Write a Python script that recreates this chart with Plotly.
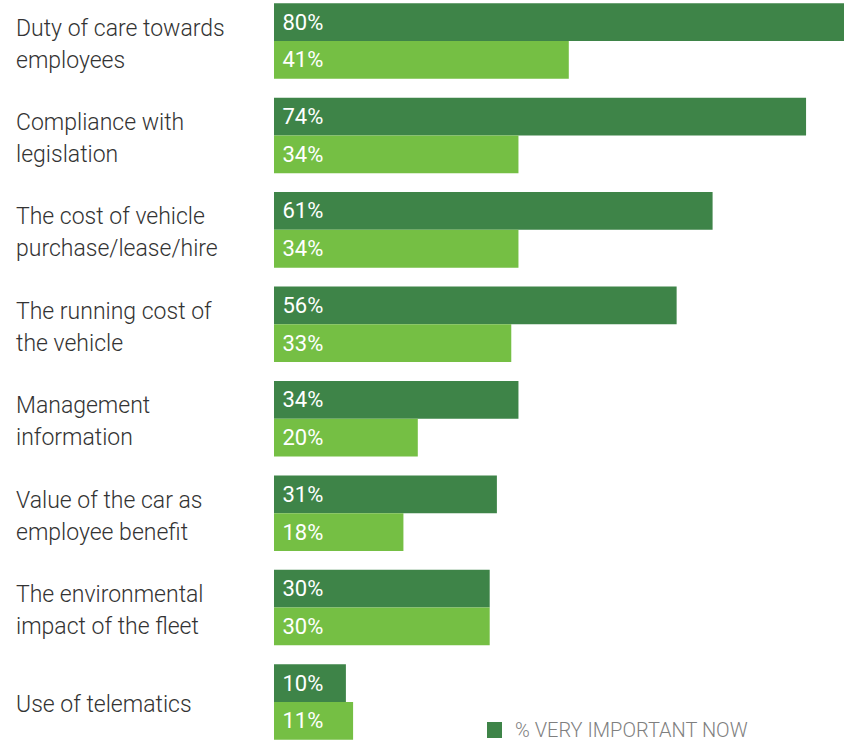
import plotly.graph_objects as go

categories = [
    "Duty of care towards<br>employees",
    "Compliance with<br>legislation",
    "The cost of vehicle<br>purchase/lease/hire",
    "The running cost of<br>the vehicle",
    "Management<br>information",
    "Value of the car as<br>employee benefit",
    "The environmental<br>impact of the fleet",
    "Use of telematics",
]
very_important_now = [80, 74, 61, 56, 34, 31, 30, 10]
second_series = [41, 34, 34, 33, 20, 18, 30, 11]
legend_label = "% VERY IMPORTANT NOW"

DARK = "#3e8448"
LIGHT = "#75bf44"
W, H = 844, 741
LEFT = 274
PX_PER_PCT = 7.19

pos = list(range(len(categories)))
bar_font = dict(color="white", size=22, family="Roboto", weight=400)

fig = go.Figure()
fig.add_trace(go.Bar(
    y=pos, x=very_important_now, orientation="h",
    name=legend_label, marker=dict(color=DARK, line=dict(width=0)),
    text=[f" {v}%" for v in very_important_now], textposition="inside",
    insidetextanchor="start", textangle=0, textfont=bar_font,
    showlegend=False,
))
fig.add_trace(go.Bar(
    y=pos, x=second_series, orientation="h", showlegend=False,
    marker=dict(color=LIGHT, line=dict(width=0)),
    text=[f" {v}%" for v in second_series], textposition="inside",
    insidetextanchor="start", textangle=0, textfont=bar_font,
))

# category labels, left aligned, one annotation per line for custom spacing
label_font = dict(family="Roboto", size=23, color="#333333", weight=300)
x_label = -(LEFT - 14) / (W - LEFT)
for i, c in enumerate(categories):
    lines = c.split("<br>")
    if len(lines) == 1:
        shifts = [-2]
    else:
        shifts = [13, -19]
    for line, s in zip(lines, shifts):
        fig.add_annotation(
            xref="paper", yref="y", x=x_label, y=i, yshift=s,
            xanchor="left", yanchor="middle", align="left", showarrow=False,
            text=line, font=label_font,
        )

# legend key drawn in paper coordinates
def px_x(px):
    return (px - LEFT) / (W - LEFT)

def px_y(py):
    return 1 - py / H

fig.add_shape(type="rect", xref="paper", yref="paper",
              x0=px_x(487), x1=px_x(502), y0=px_y(738), y1=px_y(722),
              fillcolor=DARK, line=dict(width=0))
fig.add_annotation(xref="paper", yref="paper", x=px_x(513), y=px_y(730),
                   xanchor="left", yanchor="middle", showarrow=False,
                   text=legend_label,
                   font=dict(family="Roboto", size=20, color="#7f7f7f", weight=300))

pitch = 94.43
first_center = 41
fig.update_layout(
    width=W, height=H,
    margin=dict(l=LEFT, r=0, t=0, b=0),
    paper_bgcolor="white", plot_bgcolor="white",
    barmode="group", bargap=0.2, bargroupgap=0,
    xaxis=dict(range=[0, (W - LEFT) / PX_PER_PCT], visible=False, fixedrange=True),
    yaxis=dict(range=[(H - first_center) / pitch, -first_center / pitch],
               visible=False, fixedrange=True),
    showlegend=False,
)

fig.write_html("out.html")
